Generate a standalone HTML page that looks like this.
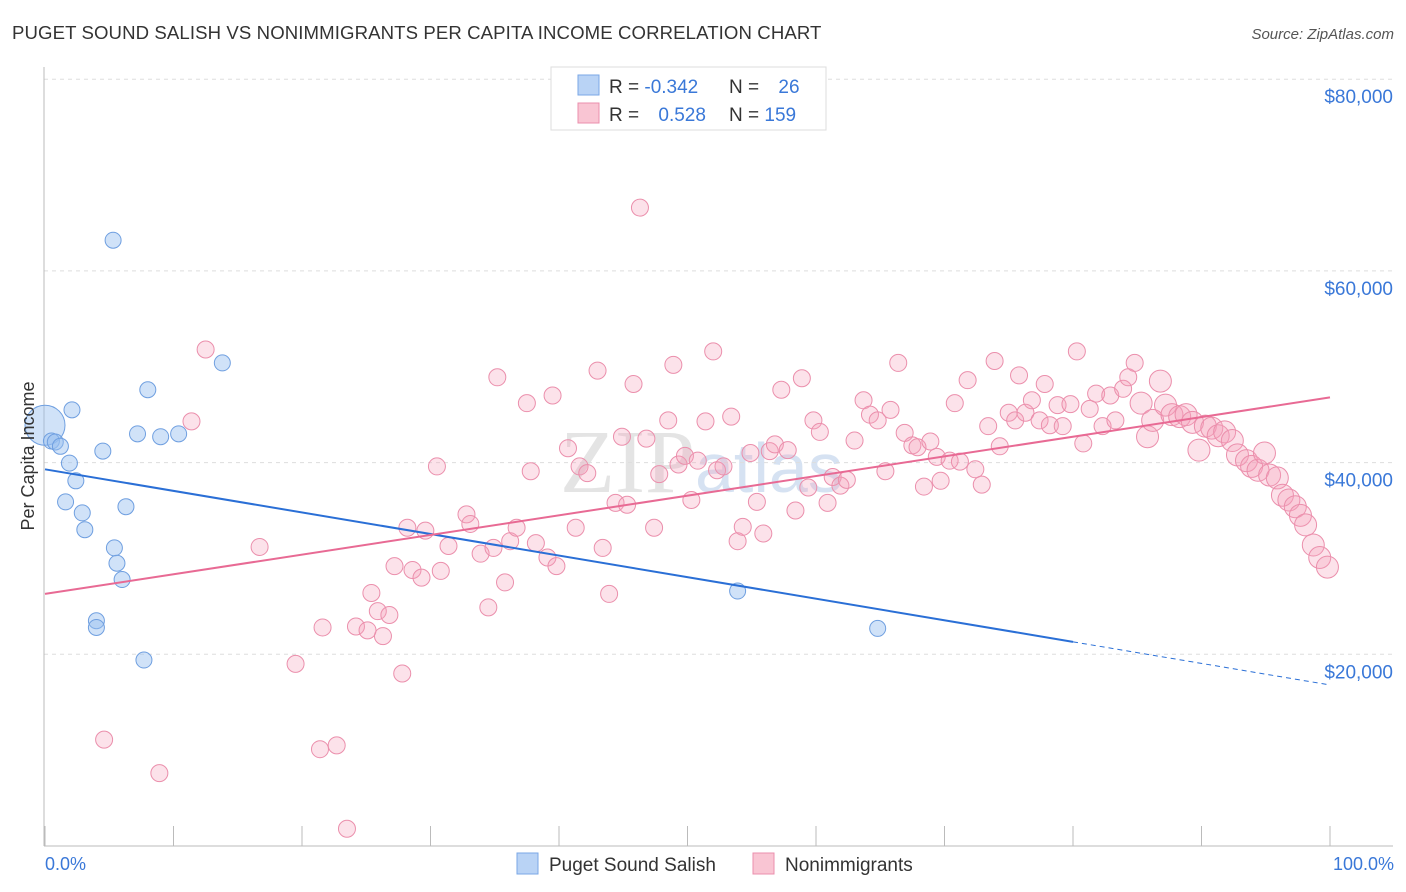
<!DOCTYPE html>
<html><head><meta charset="utf-8"><style>
body{margin:0;background:#fff;font-family:"Liberation Sans",sans-serif;}
svg{display:block}
</style></head><body>
<svg id="chart" width="1406" height="892" viewBox="0 0 1406 892">
<text x="12" y="39" font-size="18.6" fill="#333" letter-spacing="0.1">PUGET SOUND SALISH VS NONIMMIGRANTS PER CAPITA INCOME CORRELATION CHART</text>
<text x="1394" y="39" font-size="15" fill="#555" font-style="italic" text-anchor="end">Source: ZipAtlas.com</text>
<text x="560" y="492" font-size="90" fill="#e4e4e4" font-family="Liberation Serif,serif">ZIP<tspan fill="#d6e2f2" font-family="Liberation Sans,sans-serif" font-size="70">atlas</tspan></text>
<g id="grid"></g>
<g id="axes"></g>
<g id="marks"></g>
<text transform="translate(34,456) rotate(-90)" font-size="18" fill="#333" text-anchor="middle">Per Capita Income</text>
<text x="45" y="870" font-size="18" fill="#3a78d8">0.0%</text>
<text x="1394" y="870" font-size="18" fill="#3a78d8" text-anchor="end">100.0%</text>
<g>
<rect x="551" y="67" width="275" height="63" fill="#fff" stroke="#ddd"/>
<rect x="578" y="75" width="21" height="20" fill="#b9d3f5" stroke="#7aa7e6"/>
<rect x="578" y="103" width="21" height="20" fill="#f9c5d3" stroke="#eb8fac"/>
<text x="609" y="93" font-size="19" fill="#333">R = <tspan fill="#3a78d8">-0.342</tspan></text>
<text x="729" y="93" font-size="19" fill="#333">N = <tspan fill="#3a78d8" dx="14">26</tspan></text>
<text x="609" y="121" font-size="19" fill="#333">R = <tspan fill="#3a78d8" dx="14">0.528</tspan></text>
<text x="729" y="121" font-size="19" fill="#333">N = <tspan fill="#3a78d8">159</tspan></text>
</g>
<g>
<rect x="517" y="853" width="21" height="21" fill="#b9d3f5" stroke="#7aa7e6"/>
<text x="549" y="871" font-size="19" fill="#333">Puget Sound Salish</text>
<rect x="753" y="853" width="21" height="21" fill="#f9c5d3" stroke="#eb8fac"/>
<text x="785" y="871" font-size="19" fill="#333">Nonimmigrants</text>
</g>
</svg>
<script>
const yTicks=[20000,40000,60000,80000];
const yTickLabels=["$20,000","$40,000","$60,000","$80,000"];
const xTicks=[0,10,20,30,40,50,60,70,80,90,100];
const blueX=[0,0.5,0.8,1.2,2.1,1.9,2.4,1.6,2.9,3.1,4.5,5.3,5.4,5.6,6.0,6.3,4.0,4.0,7.7,8.0,7.2,9.0,10.4,13.8,53.9,64.8];
const blueY=[43900,42250,42150,41700,45500,39950,38100,35900,34750,33000,41200,63200,31100,29500,27800,35400,23500,22800,19400,47600,43000,42700,43000,50400,26600,22700];
const pinkX=[12.5,11.4,16.7,4.6,8.9,19.5,21.6,21.4,22.7,23.5,24.2,25.1,25.4,25.9,26.3,26.8,27.2,27.8,28.2,28.6,29.3,29.6,30.5,30.8,31.4,32.8,33.1,33.9,34.5,34.9,35.2,35.8,36.2,36.7,37.5,37.8,38.2,39.1,39.5,39.8,40.7,41.3,41.6,42.2,43.0,43.4,43.9,44.4,44.9,45.3,45.8,46.3,46.8,47.4,47.8,48.5,48.9,49.3,49.8,50.3,50.8,51.4,52.0,52.3,52.8,53.4,53.9,54.3,54.9,55.4,55.9,56.4,56.8,57.3,57.8,58.4,58.9,59.4,59.8,60.3,60.9,61.3,61.9,62.4,63.0,63.7,64.2,64.8,65.4,65.8,66.4,66.9,67.5,67.9,68.4,68.9,69.4,69.7,70.4,70.8,71.2,71.8,72.4,72.9,73.4,73.9,74.3,75.0,75.5,75.8,76.3,76.8,77.4,77.8,78.2,78.8,79.2,79.8,80.3,80.8,81.3,81.8,82.3,82.9,83.3,83.9,84.3,84.8,85.3,85.8,86.2,86.8,87.2,87.7,88.3,88.8,89.3,89.8,90.3,90.8,91.3,91.8,92.4,92.8,93.5,93.9,94.4,94.9,95.3,95.9,96.3,96.8,97.3,97.7,98.1,98.7,99.2,99.8];
const pinkY=[51800,44300,31200,11100,7600,19000,22800,10100,10500,1800,22900,22500,26400,24500,21900,24100,29200,18000,33200,28800,28000,32900,39600,28700,31300,34600,33600,30500,24900,31100,48900,27500,31800,33200,46200,39100,31600,30100,47000,29200,41500,33200,39600,38900,49600,31100,26300,35800,42700,35600,48200,66600,42500,33200,38800,44400,50200,39800,40700,36100,40200,44300,51600,39200,39600,44800,31800,33300,41000,35900,32600,41200,41900,47600,41300,35000,48800,37400,44400,43200,35800,38500,37600,38200,42300,46500,45000,44400,39100,45500,50400,43100,41800,41600,37500,42200,40600,38100,40200,46200,40100,48600,39300,37700,43800,50600,41700,45200,44400,49100,45200,46500,44400,48200,43900,46000,43800,46100,51600,42000,45600,47200,43800,47000,44400,47700,48900,50400,46200,42700,44400,48500,46000,45000,44800,45000,44200,41300,43800,43600,42800,43200,42300,40800,40200,39600,39200,41000,38700,38400,36600,36100,35400,34500,33500,31400,30100,29100];
const blueTrend=[39300,16800];
const pinkTrend=[26300,46800];
const NS="http://www.w3.org/2000/svg";
const xs=v=>45+v*12.85;
const ys=v=>846-v*0.009585;
function mk(parent,tag,attrs){const e=document.createElementNS(NS,tag);for(const k in attrs)e.setAttribute(k,attrs[k]);document.getElementById(parent).appendChild(e);return e;}
yTicks.forEach((t,i)=>{
  const g=mk('grid','line',{x1:44,x2:1393,y1:ys(t),y2:ys(t),stroke:'#ddd','stroke-dasharray':'4,4'});
  
  
  const l=mk('axes','text',{x:1393,y:ys(t)+24,'font-size':19,fill:'#3a78d8','text-anchor':'end'});
  l.textContent=yTickLabels[i];
  
  
});
const ya=mk('axes','line',{x1:44,x2:44,y1:67,y2:846,stroke:'#bbb'});


const xa=mk('axes','line',{x1:44,x2:1393,y1:846,y2:846,stroke:'#bbb'});


xTicks.forEach(t=>{
  const k=mk('axes','line',{x1:xs(t),x2:xs(t),y1:826,y2:846,stroke:'#bbb'});
  
  
});
pinkX.forEach((x,i)=>{
  const c=mk('marks','circle',{cx:xs(x),cy:ys(pinkY[i]),r:x>85?11:8.5,fill:'rgba(244,160,186,0.3)',stroke:'#eb8fac','stroke-width':1});
  
  
});
blueX.forEach((x,i)=>{
  const c=mk('marks','circle',{cx:xs(x),cy:ys(blueY[i]),r:i===0?20:8,fill:'rgba(150,190,240,0.45)',stroke:'#6f9fe0','stroke-width':1});
  
  
});
const bAt=p=>blueTrend[0]+(blueTrend[1]-blueTrend[0])*p/100;
const bl=mk('marks','line',{x1:xs(0),y1:ys(bAt(0)),x2:xs(80),y2:ys(bAt(80)),stroke:'#2a6fd6','stroke-width':2});


const bd=mk('marks','line',{x1:xs(80),y1:ys(bAt(80)),x2:xs(100),y2:ys(bAt(100)),stroke:'#2a6fd6','stroke-width':1,'stroke-dasharray':'5,4'});


const pl=mk('marks','line',{x1:xs(0),y1:ys(pinkTrend[0]),x2:xs(100),y2:ys(pinkTrend[1]),stroke:'#e86a94','stroke-width':2});


</script>
</body></html>
